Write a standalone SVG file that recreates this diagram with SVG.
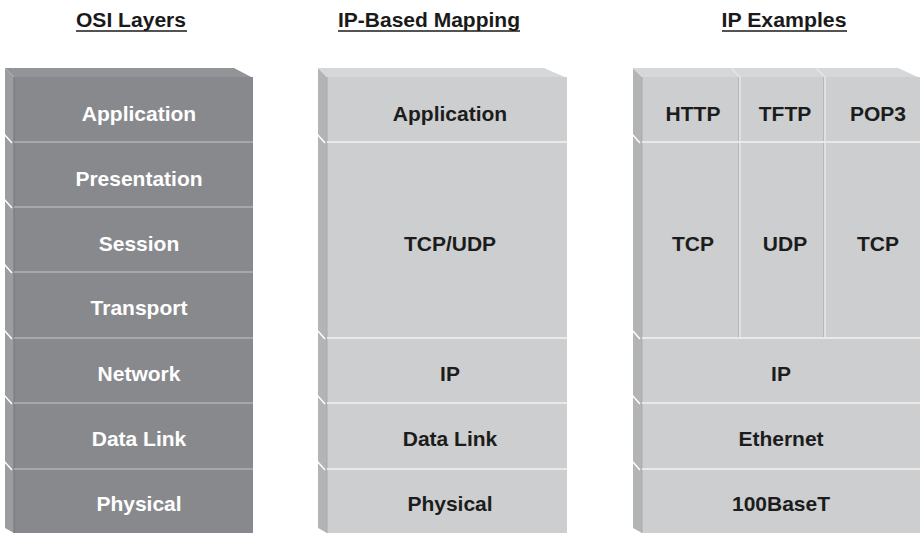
<svg xmlns="http://www.w3.org/2000/svg" width="922" height="535" viewBox="0 0 922 535">
<style>
.hdr{font-family:"Liberation Sans",Arial,sans-serif;font-weight:bold;font-size:20px;fill:#1a1a1a;text-anchor:middle}
.ul{stroke:#1a1a1a;stroke-width:1.6}
.t{font-family:"Liberation Sans",Arial,sans-serif;font-weight:bold;font-size:21px;text-anchor:middle}
.w{fill:#ffffff}
.d{fill:#1c1c1c}
.f1{fill:#88898d}.s1{fill:#9c9da1}.p1{fill:#939498}
.f2{fill:#cdcecf}.s2{fill:#b3b4b6}.p2{fill:#d6d7d8}
.sep1{stroke:#a6a7ab;stroke-width:2}
.sep2{stroke:#e9e9ea;stroke-width:2}
.edge1{stroke:#76777b;stroke-width:1}
.edge2{stroke:#a9aaac;stroke-width:1}
.notch{stroke:#ffffff;stroke-width:1.5}
.vdiv{stroke:#e6e6e7;stroke-width:1.5}
.vdivd{stroke:#b6b7b9;stroke-width:1}
</style>
<rect width="922" height="535" fill="#ffffff"/>

<g id="headers">
<text class="hdr" x="131" y="27" textLength="110" lengthAdjust="spacingAndGlyphs">OSI Layers</text>
<line class="ul" x1="76" y1="31" x2="187" y2="31"/>
<text class="hdr" x="429" y="27" textLength="182" lengthAdjust="spacingAndGlyphs">IP-Based Mapping</text>
<line class="ul" x1="338" y1="31" x2="520" y2="31"/>
<text class="hdr" x="784" y="27" textLength="125" lengthAdjust="spacingAndGlyphs">IP Examples</text>
<line class="ul" x1="722" y1="31" x2="847" y2="31"/>
</g>

<g id="osi-layers">
<polygon class="s1" points="5,68 14,77 14,533 5,528"/>
<polygon class="p1" points="5,68 234,68 253,78 14,77"/>
<rect class="f1" x="14" y="77" width="239" height="456"/>
<line class="edge1" x1="14" y1="77" x2="14" y2="533"/>
<line class="sep1" x1="14" y1="142" x2="253" y2="142"/>
<line class="sep1" x1="14" y1="207" x2="253" y2="207"/>
<line class="sep1" x1="14" y1="272" x2="253" y2="272"/>
<line class="sep1" x1="14" y1="338" x2="253" y2="338"/>
<line class="sep1" x1="14" y1="403" x2="253" y2="403"/>
<line class="sep1" x1="14" y1="469" x2="253" y2="469"/>
<g class="notch">
<line x1="4" y1="134" x2="12" y2="143"/>
<line x1="4" y1="199" x2="12" y2="208"/>
<line x1="4" y1="264" x2="12" y2="273"/>
<line x1="4" y1="330" x2="12" y2="339"/>
<line x1="4" y1="395" x2="12" y2="404"/>
<line x1="4" y1="461" x2="12" y2="470"/>
</g>
<text class="t w" x="139" y="121">Application</text>
<text class="t w" x="139" y="186">Presentation</text>
<text class="t w" x="139" y="251">Session</text>
<text class="t w" x="139" y="315">Transport</text>
<text class="t w" x="139" y="381">Network</text>
<text class="t w" x="139" y="446">Data Link</text>
<text class="t w" x="139" y="511">Physical</text>
</g>

<g id="ip-based-mapping">
<polygon class="s2" points="318,68 327,77 327,533 318,528"/>
<polygon class="p2" points="318,68 544,68 567,78 327,77"/>
<rect class="f2" x="327" y="77" width="240" height="456"/>
<line class="edge2" x1="327" y1="77" x2="327" y2="533"/>
<line class="sep2" x1="327" y1="142" x2="567" y2="142"/>
<line class="sep2" x1="327" y1="338" x2="567" y2="338"/>
<line class="sep2" x1="327" y1="403" x2="567" y2="403"/>
<line class="sep2" x1="327" y1="469" x2="567" y2="469"/>
<g class="notch">
<line x1="317" y1="134" x2="325" y2="143"/>
<line x1="317" y1="330" x2="325" y2="339"/>
<line x1="317" y1="395" x2="325" y2="404"/>
<line x1="317" y1="461" x2="325" y2="470"/>
</g>
<text class="t d" x="450" y="121">Application</text>
<text class="t d" x="450" y="251">TCP/UDP</text>
<text class="t d" x="450" y="381">IP</text>
<text class="t d" x="450" y="446">Data Link</text>
<text class="t d" x="450" y="511">Physical</text>
</g>

<g id="ip-examples">
<polygon class="s2" points="633,68 642,77 642,533 633,528"/>
<polygon class="p2" points="633,68 898,68 920,78 642,77"/>
<rect class="f2" x="642" y="77" width="278" height="456"/>
<line class="edge2" x1="642" y1="77" x2="642" y2="533"/>
<line class="vdivd" x1="738.5" y1="77" x2="738.5" y2="338"/>
<line class="vdiv" x1="740" y1="77" x2="740" y2="338"/>
<line class="vdivd" x1="823.5" y1="77" x2="823.5" y2="338"/>
<line class="vdiv" x1="825" y1="77" x2="825" y2="338"/>
<line class="vdiv" x1="731" y1="68" x2="740" y2="77"/>
<line class="vdiv" x1="816" y1="68" x2="825" y2="77"/>
<line class="sep2" x1="642" y1="142" x2="920" y2="142"/>
<line class="sep2" x1="642" y1="338" x2="920" y2="338"/>
<line class="sep2" x1="642" y1="403" x2="920" y2="403"/>
<line class="sep2" x1="642" y1="469" x2="920" y2="469"/>
<g class="notch">
<line x1="632" y1="134" x2="640" y2="143"/>
<line x1="632" y1="330" x2="640" y2="339"/>
<line x1="632" y1="395" x2="640" y2="404"/>
<line x1="632" y1="461" x2="640" y2="470"/>
</g>
<text class="t d" x="693" y="121">HTTP</text>
<text class="t d" x="785" y="121">TFTP</text>
<text class="t d" x="878" y="121">POP3</text>
<text class="t d" x="693" y="251">TCP</text>
<text class="t d" x="785" y="251">UDP</text>
<text class="t d" x="878" y="251">TCP</text>
<text class="t d" x="781" y="381">IP</text>
<text class="t d" x="781" y="446">Ethernet</text>
<text class="t d" x="781" y="511">100BaseT</text>
</g>
</svg>
